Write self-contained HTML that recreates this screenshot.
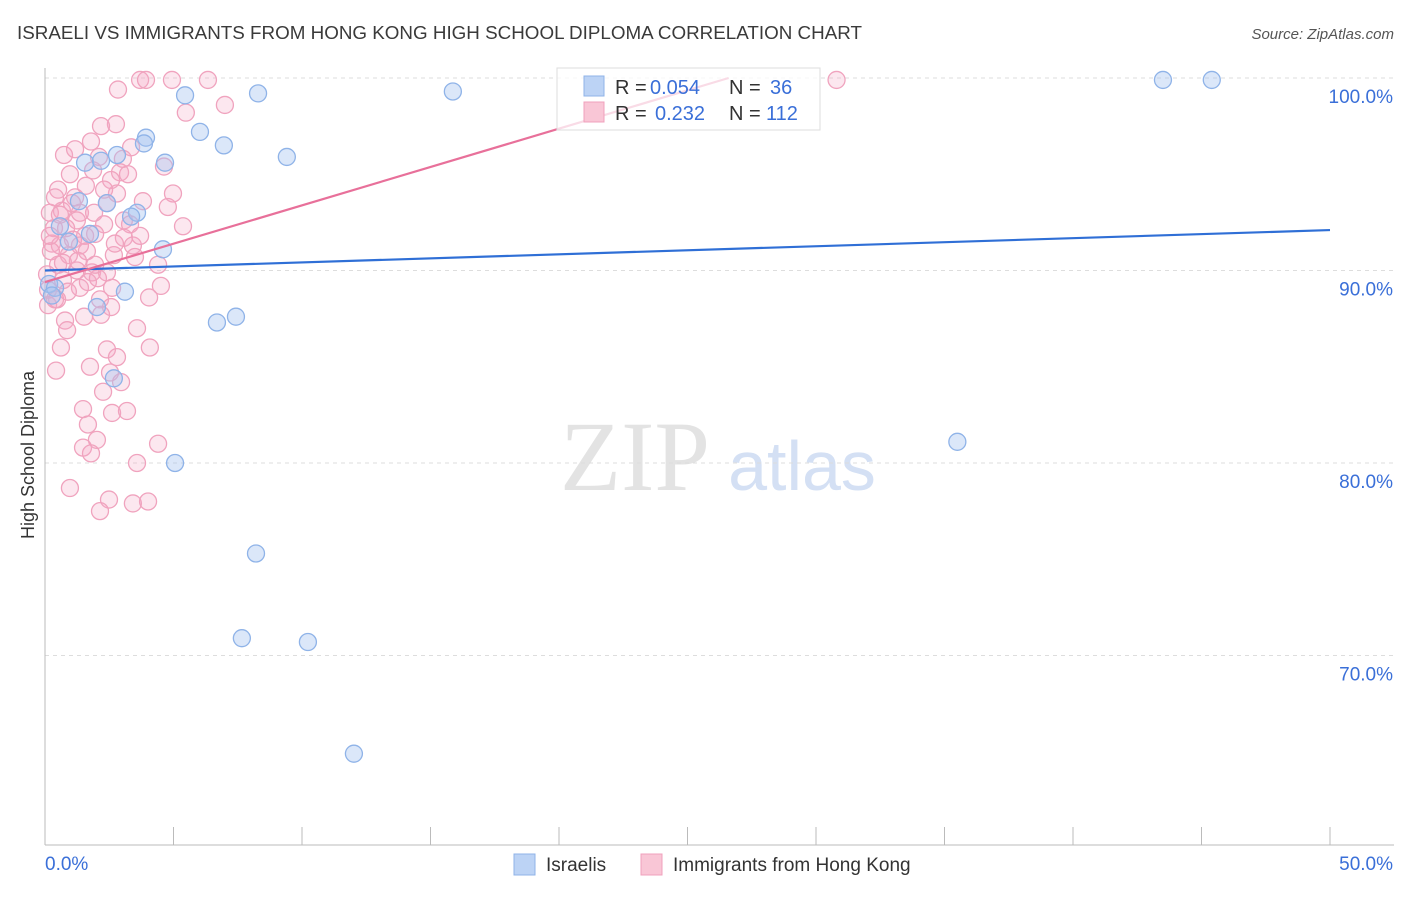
<!DOCTYPE html>
<html><head><meta charset="utf-8">
<style>
body{margin:0;background:#fff;font-family:"Liberation Sans",sans-serif;}
</style></head>
<body>
<svg id="chart" width="1406" height="892" xmlns="http://www.w3.org/2000/svg" font-family="Liberation Sans, sans-serif">
<text x="17" y="39" font-size="18" fill="#3a3a3a" textLength="845" lengthAdjust="spacingAndGlyphs">ISRAELI VS IMMIGRANTS FROM HONG KONG HIGH SCHOOL DIPLOMA CORRELATION CHART</text>
<text x="1394" y="39" font-size="15" fill="#555" text-anchor="end" font-style="italic">Source: ZipAtlas.com</text>
<text transform="translate(34,455) rotate(-90)" font-size="18" fill="#333" text-anchor="middle">High School Diploma</text>
<g>
<text x="635" y="490" font-size="100" fill="#e3e3e3" font-family="Liberation Serif, serif" text-anchor="middle">ZIP</text>
<text x="802" y="490" font-size="70" fill="#d4e0f4" text-anchor="middle">atlas</text>
</g>
<g id="grid"></g>
<g id="axes"></g>
<g id="pts"></g>
<g id="lines"></g>
<g>
<rect x="557" y="68" width="263" height="62" fill="rgba(255,255,255,0.75)" stroke="#ddd"/>
<rect x="584" y="76" width="20" height="20" fill="#bcd3f5" stroke="#8fb3e8"/>
<rect x="584" y="102" width="20" height="20" fill="#f9c6d6" stroke="#f0a0bc"/>
<text x="615" y="94" font-size="20" fill="#333">R =</text>
<text x="650" y="94" font-size="20" fill="#3a6fd8">0.054</text>
<text x="729" y="94" font-size="20" fill="#333">N =</text>
<text x="770" y="94" font-size="20" fill="#3a6fd8">36</text>
<text x="615" y="120" font-size="20" fill="#333">R =</text>
<text x="655" y="120" font-size="20" fill="#3a6fd8">0.232</text>
<text x="729" y="120" font-size="20" fill="#333">N =</text>
<text x="766" y="120" font-size="20" fill="#3a6fd8">112</text>
</g>
<g>
<rect x="514" y="854" width="21" height="21" fill="#bcd3f5" stroke="#8fb3e8"/>
<text x="546" y="871" font-size="19" fill="#333">Israelis</text>
<rect x="641" y="854" width="21" height="21" fill="#f9c6d6" stroke="#f0a0bc"/>
<text x="673" y="871" font-size="19" fill="#333">Immigrants from Hong Kong</text>
</g>
</svg>
<script>
const yTicks=[70,80,90,100];
const yTickLabels=["70.0%","80.0%","90.0%","100.0%"];
const xTickLabels=["0.0%","50.0%"];
const blueX=[5.45,8.29,15.87,43.5,45.4,6.03,3.93,6.96,3.85,2.8,9.41,1.56,2.18,4.67,2.41,1.32,3.58,3.35,0.58,1.75,0.93,4.59,0.16,0.39,0.27,3.11,2.02,7.43,6.69,2.68,35.5,5.06,8.21,7.66,10.23,12.02];
const blueY=[99.1,99.2,99.3,99.9,99.9,97.2,96.9,96.5,96.6,96.0,95.9,95.6,95.7,95.6,93.5,93.6,93.0,92.8,92.3,91.9,91.5,91.1,89.3,89.1,88.7,88.9,88.1,87.6,87.3,84.4,81.1,80.0,75.3,70.9,70.7,64.9];
const pinkX=[3.7,3.93,4.94,6.34,30.8,2.84,7.0,5.48,2.76,2.18,1.79,0.74,2.1,3.35,3.03,1.87,0.97,2.92,2.57,4.63,0.51,1.17,2.8,3.81,4.98,0.19,0.66,1.36,1.91,2.41,4.78,1.24,2.3,3.07,3.31,5.37,0.35,0.82,1.56,1.95,0.27,0.58,1.09,1.36,3.07,3.42,0.23,0.93,1.63,2.68,3.5,4.4,0.51,1.24,1.83,2.41,0.7,1.36,1.67,2.06,0.12,0.89,2.61,4.05,4.51,0.12,0.47,2.14,2.57,0.78,1.52,2.18,3.58,0.86,0.62,2.41,4.08,2.8,0.43,1.75,2.53,2.96,2.26,1.48,2.61,3.19,1.67,2.02,1.48,1.79,4.4,3.58,0.97,2.49,2.14,3.42,4.01,0.39,0.08,0.19,0.7,1.05,1.59,2.3,3.23,1.17,1.95,2.72,3.7,0.39,1.28,0.58];
const pinkY=[99.9,99.9,99.9,99.9,99.9,99.4,98.6,98.2,97.6,97.5,96.7,96.0,95.9,96.4,95.8,95.2,95.0,95.1,94.7,95.4,94.2,93.8,94.0,93.6,94.0,93.0,93.1,93.0,93.0,93.5,93.3,92.6,92.4,92.6,92.4,92.3,92.2,92.2,91.8,91.9,91.4,91.3,91.6,91.3,91.7,91.3,91.0,90.8,91.0,90.8,90.7,90.3,90.3,90.0,89.9,89.9,89.5,89.1,89.4,89.6,89.0,88.9,89.1,88.6,89.2,88.2,88.5,88.5,88.1,87.4,87.6,87.7,87.0,86.9,86.0,85.9,86.0,85.5,84.8,85.0,84.7,84.2,83.7,82.8,82.6,82.7,82.0,81.2,80.8,80.5,81.0,80.0,78.7,78.1,77.5,77.9,78.0,88.5,89.8,91.8,90.4,93.5,94.4,94.2,95.0,96.3,90.3,91.4,91.8,93.8,90.5,92.9];
const blueTrend=[[0,90.0],[50,92.1]];
const pinkTrend=[[0,89.4],[26.6,100]];

const X0=45,X1=1330,YB=845;
const sx=v=>X0+(v/50)*(X1-X0);
const sy=v=>78+(100-v)*19.25;
const NS="http://www.w3.org/2000/svg";
function mk(tag,parent,attrs){const e=document.createElementNS(NS,tag);for(const k in attrs)e.setAttribute(k,attrs[k]);parent.appendChild(e);return e;}
const grid=document.getElementById('grid'),axes=document.getElementById('axes'),pts=document.getElementById('pts'),lines=document.getElementById('lines');
yTicks.forEach((t,i)=>{
  const l=mk('line',grid,{x1:X0,x2:1394,y1:sy(t),y2:sy(t),stroke:'#ddd','stroke-dasharray':'4,4'});
  
  
  const tx=mk('text',axes,{x:1393,y:sy(t)+25,'font-size':19,fill:'#3a6fd8','text-anchor':'end'});
  tx.textContent=yTickLabels[i];
  
  
});
const yl=mk('line',axes,{x1:X0,x2:X0,y1:68,y2:YB,stroke:'#bbb'});


const xl=mk('line',axes,{x1:X0,x2:1394,y1:YB,y2:YB,stroke:'#bbb'});


for(let i=0;i<=10;i++){
  const tk=mk('line',axes,{x1:sx(i*5),x2:sx(i*5),y1:YB-18,y2:YB,stroke:'#bbb'});
  
  
}
const xa=mk('text',axes,{x:45,y:870,'font-size':19,fill:'#3a6fd8'});xa.textContent=xTickLabels[0];


const xb=mk('text',axes,{x:1393,y:870,'font-size':19,fill:'#3a6fd8','text-anchor':'end'});xb.textContent=xTickLabels[1];


pinkX.forEach((v,i)=>{
  const c=mk('circle',pts,{cx:sx(v),cy:sy(pinkY[i]),r:8.5,fill:'rgba(246,170,196,0.28)',stroke:'#f0a3be','stroke-width':1.3});
  
  
});
blueX.forEach((v,i)=>{
  const c=mk('circle',pts,{cx:sx(v),cy:sy(blueY[i]),r:8.5,fill:'rgba(165,195,240,0.4)',stroke:'#8fb3e8','stroke-width':1.3});
  
  
});
const bl=mk('line',lines,{x1:sx(blueTrend[0][0]),y1:sy(blueTrend[0][1]),x2:sx(blueTrend[1][0]),y2:sy(blueTrend[1][1]),stroke:'#2f6fd6','stroke-width':2.2});


const pl=mk('line',lines,{x1:sx(pinkTrend[0][0]),y1:sy(pinkTrend[0][1]),x2:sx(pinkTrend[1][0]),y2:sy(pinkTrend[1][1]),stroke:'#e8709a','stroke-width':2.2});


</script>
</body></html>
